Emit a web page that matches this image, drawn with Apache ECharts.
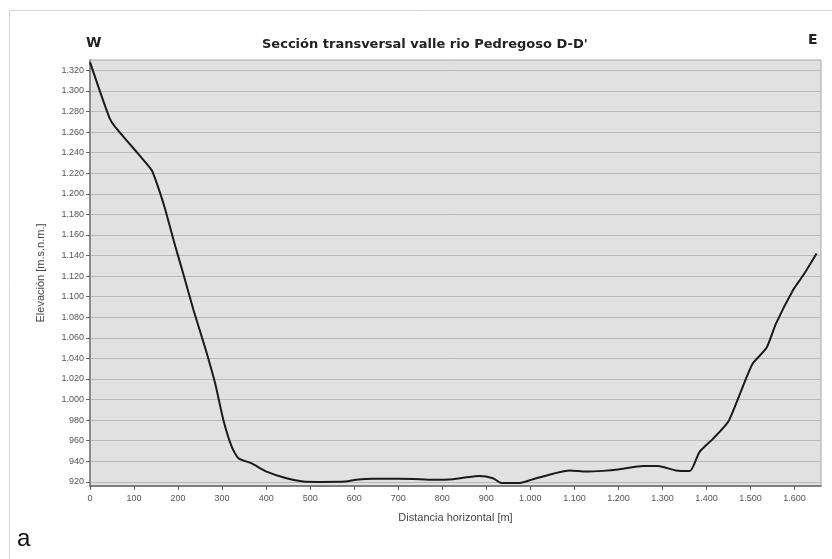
<!DOCTYPE html>
<html>
<head>
<meta charset="utf-8">
<title>Sección transversal valle rio Pedregoso D-D'</title>
<script src="https://cdn.jsdelivr.net/npm/echarts@6/dist/echarts.min.js"></script>
<style>
  html, body { margin: 0; padding: 0; background: #fff; }
  #chart { width: 832px; height: 559px; }
</style>
</head>
<body>
<div id="chart"></div>
<script>
// distance along section [m] and elevation [m.s.n.m.]
const distance = [0, 23, 45, 57, 87, 113, 140, 151, 170, 193, 212, 235, 261, 284, 303, 322, 337, 367, 401, 446,
  484, 520, 579, 605, 643, 700, 749, 779, 825, 855, 885, 915, 934, 976, 1006, 1052, 1089, 1127, 1165, 1199,
  1256, 1290, 1331, 1362, 1384, 1415, 1450, 1480, 1505, 1536, 1558, 1596, 1620, 1650];
const elevation = [1328, 1299, 1273, 1265, 1250, 1237, 1223, 1211, 1186, 1150, 1122, 1087, 1051, 1016, 980, 954, 943, 938, 930, 923.5,
  920.3, 920, 920.3, 922, 923, 923, 922.6, 922, 922.6, 924.5, 925.8, 923.6, 919, 919, 922.6, 928, 931, 930, 930.7, 932,
  935.5, 935.5, 931, 930.5, 949, 962, 979, 1010, 1035, 1050, 1074, 1106, 1121, 1142];

const xTicks = [0, 100, 200, 300, 400, 500, 600, 700, 800, 900, 1000, 1100, 1200, 1300, 1400, 1500, 1600];
const yTicks = [920, 940, 960, 980, 1000, 1020, 1040, 1060, 1080, 1100, 1120, 1140, 1160, 1180, 1200,
  1220, 1240, 1260, 1280, 1300, 1320];

const chart = echarts.init(document.getElementById('chart'));

// thousands with a dot, like the Spanish original
function fmt(v) {
  if (v < 1000) return String(v);
  return Math.floor(v / 1000) + '.' + String(v % 1000).padStart(3, '0');
}

const labelStyle = { color: '#555', fontSize: 9, fontFamily: 'Liberation Sans, Arial, sans-serif' };

chart.setOption({
  animation: false,
  backgroundColor: '#fff',
  title: [
    {
      text: 'W', left: 81, top: 31,
      textStyle: { fontSize: 14, fontWeight: 'bold', color: '#222', fontFamily: 'DejaVu Sans, sans-serif' }
    },
    {
      text: "Sección transversal valle rio Pedregoso D-D'", left: 257, top: 33,
      textStyle: { fontSize: 13, fontWeight: 'bold', color: '#222', fontFamily: 'DejaVu Sans, sans-serif' }
    },
    {
      text: 'E', left: 803, top: 28,
      textStyle: { fontSize: 14, fontWeight: 'bold', color: '#222', fontFamily: 'DejaVu Sans, sans-serif' }
    }
  ],
  graphic: [
    {
      type: 'rect', left: 7, top: 8, z: -1, silent: true,
      shape: { width: 840, height: 570 },
      style: { fill: 'none', stroke: '#d4d4d4', lineWidth: 1 }
    },
    {
      type: 'text', left: 17, top: 527,
      style: { text: 'a', fontSize: 24, fill: '#111', fontFamily: 'Liberation Sans, Arial, sans-serif' }
    }
  ],
  grid: {
    left: 90, top: 60, right: 11, bottom: 73,
    show: true, backgroundColor: '#e1e1e1', borderColor: '#a8a8a8', borderWidth: 1
  },
  xAxis: {
    type: 'value', min: 0, max: 1660,
    name: 'Distancia horizontal [m]', nameLocation: 'middle', nameGap: 26,
    nameTextStyle: { color: '#444', fontSize: 11, fontFamily: 'Liberation Sans, Arial, sans-serif' },
    axisLine: { show: true, onZero: false, lineStyle: { color: '#666', width: 1.5 } },
    axisTick: { show: true, length: 4, customValues: xTicks, lineStyle: { color: '#666' } },
    axisLabel: Object.assign({ customValues: xTicks, formatter: fmt, margin: 8 }, labelStyle),
    splitLine: { show: false }
  },
  yAxis: {
    type: 'value', min: 916, max: 1330,
    name: 'Elevación [m.s.n.m.]', nameLocation: 'middle', nameGap: 44,
    nameTextStyle: { color: '#444', fontSize: 11, fontFamily: 'Liberation Sans, Arial, sans-serif' },
    axisLine: { show: true, lineStyle: { color: '#777', width: 1.5 } },
    axisTick: { show: true, length: 4, customValues: yTicks, lineStyle: { color: '#666' } },
    axisLabel: Object.assign({ customValues: yTicks, formatter: fmt, margin: 6 }, labelStyle),
    splitLine: { show: true, lineStyle: { color: '#b9b9b9', width: 1 } }
  },
  series: [
    {
      type: 'line',
      data: distance.map((d, i) => [d, elevation[i]]),
      showSymbol: false,
      smooth: 0.2,
      lineStyle: { color: '#1b1b1b', width: 2 }
    }
  ]
});
</script>
</body>
</html>
